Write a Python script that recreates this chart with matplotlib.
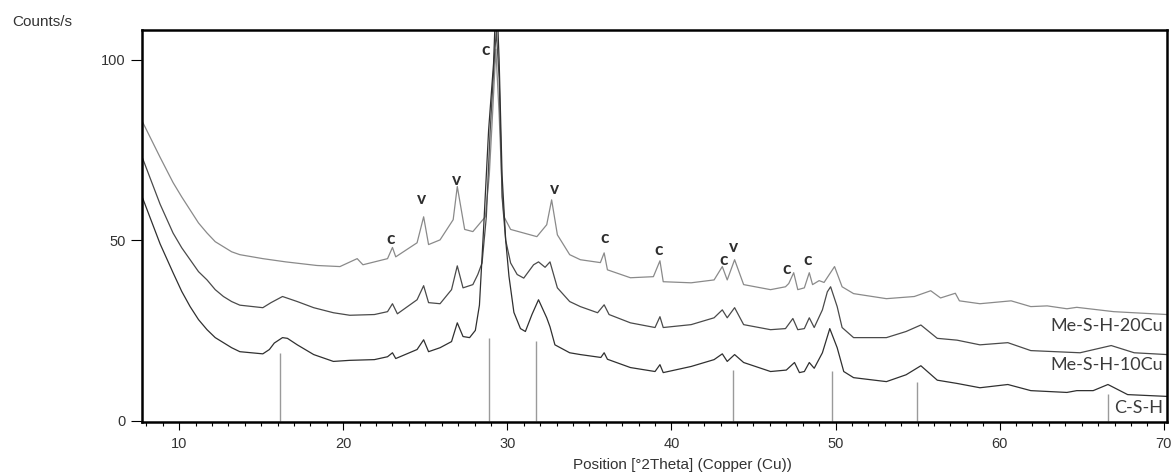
import matplotlib
matplotlib.use("Agg")
import matplotlib.pyplot as plt
from matplotlib.ticker import MultipleLocator

# 2theta / counts
theta_csh = [7.75, 8.84, 9.63, 10.16, 10.67, 11.18, 11.7, 12.2, 12.7, 13.2, 13.7, 15.1,
             15.5, 15.8, 16.3, 16.6, 17.2, 18.2, 19.4, 20.4, 21.9, 22.7, 23.0, 23.2,
             24.5, 24.9, 25.2, 25.9, 26.6, 26.95, 27.3, 27.7, 28.05, 28.3, 28.55, 28.86,
             29.16, 29.33, 29.5, 29.68, 29.9, 30.1, 30.4, 30.8, 31.1, 31.5, 31.9, 32.4,
             32.6, 32.9, 33.8, 34.45, 35.7, 35.9, 36.1, 37.5, 39.0, 39.3, 39.5, 41.2,
             42.6, 43.1, 43.4, 43.85, 44.4, 46.04, 47.0, 47.5, 47.8, 48.1, 48.4, 48.7,
             49.2, 49.65, 50.1, 50.5, 51.1, 53.1, 54.3, 55.2, 56.2, 57.4, 58.8, 60.5,
             61.9, 64.1, 64.7, 65.7, 66.6, 67.8, 70.2]
counts_csh = [62, 49, 41, 35.8, 31.6, 28, 25.2, 23, 21.6, 20.2, 19.1, 18.5,
              19.7, 21.5, 23, 22.8, 21, 18.3, 16.4, 16.7, 16.9, 17.7, 18.8, 17.2,
              19.7, 22.4, 19.1, 20.2, 21.9, 27.1, 23.3, 23.0, 25, 32, 52.9, 80.6,
              99, 120, 100, 68, 50, 40, 30, 25.5, 24.7, 29.4, 33.5, 28.5,
              26, 21, 18.8, 18.3, 17.5, 18.8, 17.0, 14.7, 13.6, 15.5, 13.3, 15.0,
              16.9, 18.5, 16.4, 18.3, 16.1, 13.6, 14.0, 16.1, 13.3, 13.6, 16.1, 14.5,
              18.8, 25.5, 20.2, 13.6, 11.9, 10.8, 12.7, 15.2, 11.2, 10.3, 9.1, 10.0,
              8.3, 7.8, 8.3, 8.3, 10.0, 7.2, 6.7]

theta_10cu = [7.75, 8.84, 9.63, 10.16, 10.67, 11.18, 11.7, 12.2, 12.7, 13.2, 13.7, 15.1,
              15.6, 16.3, 17.2, 18.2, 19.4, 20.4, 21.9, 22.7, 23.0, 23.3, 24.5, 24.9,
              25.2, 25.9, 26.6, 26.95, 27.3, 27.9, 28.2, 28.46, 28.72, 28.95, 29.2, 29.33,
              29.5, 29.68, 29.9, 30.2, 30.6, 31.0, 31.6, 31.9, 32.3, 32.6, 33.05, 33.8,
              34.45, 35.5, 35.9, 36.2, 37.5, 39.0, 39.3, 39.5, 41.2, 42.6, 43.1, 43.4,
              43.85, 44.4, 46.04, 46.95, 47.4, 47.7, 48.1, 48.4, 48.7, 49.2, 49.5, 49.7,
              50.1, 50.4, 51.1, 53.1, 54.3, 55.2, 56.2, 57.4, 58.8, 60.5, 61.9, 64.9,
              66.8, 68.2, 70.2]
counts_10cu = [73, 60, 52, 47.9, 44.6, 41.3, 39, 36.3, 34.4, 33, 32, 31.3,
               32.7, 34.4, 33, 31.3, 29.9, 29.2, 29.4, 30.2, 32.4, 29.6, 33.5, 37.4,
               32.7, 32.4, 36.3, 42.9, 36.8, 37.7, 40.5, 43.7, 56.5, 80, 100, 108,
               95, 62, 50, 43.7, 40.5, 39.5, 43.2, 44, 42.5, 44, 36.8, 33,
               31.6, 29.9, 32.1, 29.4, 27.1, 25.8, 28.8, 25.8, 26.6, 28.5, 30.7, 28.5,
               31.3, 26.6, 25.2, 25.5, 28.3, 25.2, 25.5, 28.5, 25.8, 30.7, 35.7, 37.1,
               31.6, 25.8, 23, 23, 24.7, 26.5, 22.8, 22.3, 21, 21.6, 19.4, 18.8,
               20.8, 18.8, 18.3]

theta_20cu = [7.75, 8.84, 9.63, 10.16, 10.67, 11.18, 11.7, 12.2, 12.7, 13.2, 13.7, 15.1,
              16.5, 18.4, 19.8, 20.85, 21.2, 22.7, 23.0, 23.2, 24.5, 24.9, 25.2, 25.9,
              26.7, 26.95, 27.4, 27.9, 28.66, 28.9, 29.1, 29.3, 29.5, 29.7, 29.8, 30.2,
              30.6, 31.8, 32.4, 32.7, 33.05, 33.8, 34.45, 35.67, 35.9, 36.1, 37.5, 38.9,
              39.3, 39.5, 41.2, 42.6, 43.1, 43.4, 43.85, 44.4, 46.04, 46.95, 47.15, 47.45,
              47.7, 48.1, 48.4, 48.6, 49.0, 49.3, 49.94, 50.4, 51.1, 53.1, 54.8, 55.8,
              56.4, 57.3, 57.55, 58.8, 60.7, 61.9, 62.9, 64.1, 64.7, 66.95, 70.2]
counts_20cu = [83, 73, 66, 62, 58.4, 54.8, 52, 49.6, 48.2, 46.8, 46, 44.9,
               44, 43, 42.7, 44.9, 43.2, 44.9, 48, 45.4, 49.3, 56.5, 48.8, 50.1,
               55.7, 64.9, 53, 52.4, 56.5, 68, 85, 103, 85, 62, 56.5, 53,
               52.5, 51, 54.3, 61.2, 51.5, 46, 44.6, 43.8, 46.5, 41.8, 39.6, 39.9,
               44.3, 38.5, 38.2, 39, 42.7, 39, 44.6, 37.7, 36.3, 37.1, 38, 41,
               36.3, 36.8, 41, 37.7, 38.8, 38.3, 42.7, 37.1, 35.2, 33.8, 34.4, 36,
               34, 35.3, 33.2, 32.4, 33.2, 31.6, 31.8, 31, 31.4, 30.2, 29.4]

# reference pattern sticks
stick_pos = [16.16, 28.9, 31.77, 43.76, 49.8, 54.97, 66.6]
stick_height = [18.7, 23, 22, 14.1, 13.7, 10.7, 7.4]

# phase markers (c = calcite, v = vaterite)
marker_text = ["c", "c", "v", "v", "v", "c", "c", "c", "v", "c", "c"]
marker_x = [28.66, 22.87, 24.76, 26.9, 32.87, 35.9, 39.2, 43.15, 43.76, 47.0, 48.27]
marker_y = [102.8, 50.4, 61.5, 66.8, 64.2, 50.7, 47.4, 44.6, 48.0, 42.1, 44.6]

sample_names = ["Me-S-H-20Cu", "Me-S-H-10Cu", "C-S-H"]
sample_label_y = [26.1, 15.3, 3.6]


def main():
    plt.rcParams["font.family"] = ["Liberation Sans", "DejaVu Sans"]
    fig = plt.figure(figsize=(11.71, 4.73), dpi=100)
    ax = fig.add_axes([0.1213, 0.1078, 0.8753, 0.8288])

    ax.vlines(stick_pos, 0, stick_height, color="#9a9a9a", lw=1.0)
    ax.plot(theta_20cu, counts_20cu, color="#8a8a8a", lw=0.9)
    ax.plot(theta_10cu, counts_10cu, color="#4a4a4a", lw=0.9)
    ax.plot(theta_csh, counts_csh, color="#303030", lw=0.9)

    for t, x, y in zip(marker_text, marker_x, marker_y):
        ax.text(x, y, t, ha="center", va="center", fontsize=12.5,
                fontweight="bold", family="Lato", color="#2e2e2e")

    for name, y in zip(sample_names, sample_label_y):
        ax.text(69.95, y, name, ha="right", va="center", fontsize=13,
                family="Lato", color="#3c3c3c")

    ax.set_xlim(7.74, 70.2)
    ax.set_ylim(-0.4, 108.3)
    ax.set_yticks([0, 50, 100])
    ax.xaxis.set_major_locator(MultipleLocator(10))
    ax.xaxis.set_minor_locator(MultipleLocator(1))

    for side in ["left", "right", "top", "bottom"]:
        ax.spines[side].set_linewidth(1.8)
        ax.spines[side].set_color("black")

    ax.tick_params(axis="y", length=8, width=0.8, labelsize=10.5,
                   labelcolor="#333333", pad=4)
    ax.tick_params(axis="x", which="major", length=6, width=0.8,
                   labelsize=10.5, labelcolor="#333333", pad=5)
    ax.tick_params(axis="x", which="minor", length=3, width=0.8)

    ax.set_xlabel("Position [\u00b02Theta] (Copper (Cu))", fontsize=11,
                  color="#333333")
    ax.xaxis.label.set_va("center")
    ax.xaxis.set_label_coords(0.527, -0.11)
    fig.text(12 / 1171, 1 - 22 / 473, "Counts/s", fontsize=11,
             color="#333333", ha="left", va="center")

    fig.savefig("out.png", dpi=100)


if __name__ == "__main__":
    main()
